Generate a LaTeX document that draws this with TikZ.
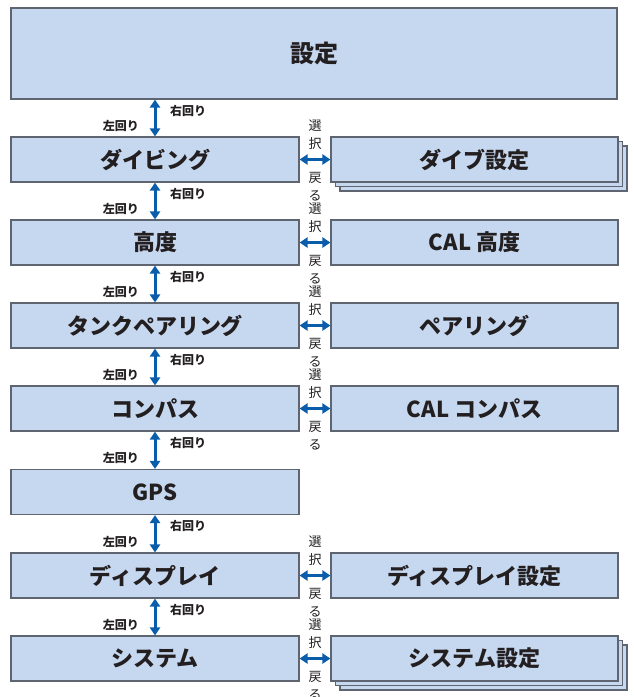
\documentclass[tikz,border=0pt]{standalone}
\usepackage{fontspec}
\setmainfont{Noto Sans CJK JP}
\usetikzlibrary{arrows.meta,positioning,shadows}
\definecolor{boxfill}{HTML}{C6D8F0}
\definecolor{boxline}{HTML}{5E6470}
\definecolor{arrc}{HTML}{0A5DAA}
\definecolor{txtc}{HTML}{231F20}
\tikzset{
  mbox/.style={draw=boxline,line width=1.1pt,fill=boxfill,minimum height=45pt,inner sep=0pt,font=\fontsize{22}{24}\selectfont\bfseries,text=txtc},
  lbox/.style={mbox,minimum width=288pt},
  rbox/.style={mbox,minimum width=287pt},
  sbox/.style={rbox,double copy shadow={shadow xshift=4.5pt,shadow yshift=-4.5pt}},
  ar/.style={{Triangle[width=10pt,length=8pt]}-{Triangle[width=10pt,length=8pt]},line width=3pt,arrc},
  sm/.style={font=\fontsize{12}{13}\selectfont\bfseries,text=txtc,inner sep=1pt},
  vt/.style={font=\fontsize{13}{18}\selectfont,text=txtc,align=center,inner sep=0pt}
}
\begin{document}
\begin{tikzpicture}[x=1pt,y=1pt]
\useasboundingbox (0,0) rectangle (633,-697);
% menu boxes
\node[mbox,minimum width=606pt,minimum height=91pt,font=\fontsize{24}{26}\selectfont\bfseries] (settei) at (314,-53.5) {設定};
\node[lbox] (dive) at (155,-159.5) {ダイビング};
\node[sbox] (diveset) at (474.5,-159.5) {ダイブ設定};
\node[lbox] (alt) at (155,-242.5) {高度};
\node[rbox] (calalt) at (474.5,-242.5) {CAL 高度};
\node[lbox] (tank) at (155,-325.5) {タンクペアリング};
\node[rbox] (pair) at (474.5,-325.5) {ペアリング};
\node[lbox] (comp) at (155,-408.5) {コンパス};
\node[rbox] (calcomp) at (474.5,-408.5) {CAL コンパス};
\node[lbox] (gps) at (155,-492) {GPS};
\node[lbox] (disp) at (155,-575.5) {ディスプレイ};
\node[rbox] (dispset) at (474.5,-575.5) {ディスプレイ設定};
\node[lbox] (sys) at (155,-658.5) {システム};
\node[sbox] (sysset) at (474.5,-658.5) {システム設定};
% rotate arrows
\foreach \a/\b in {settei/dive,dive/alt,alt/tank,tank/comp,comp/gps,gps/disp,disp/sys}{
  \draw[ar] (\b.north |- \a.south) -- (\b.north);
  \node[sm,anchor=west] at ([xshift=14pt,yshift=-11pt]\b.north |- \a.south) {右回り};
  \node[sm,anchor=east] at ([xshift=-15pt,yshift=11pt]\b.north) {左回り};
}
% select / back arrows
\foreach \a/\b in {dive/diveset,alt/calalt,tank/pair,comp/calcomp,disp/dispset,sys/sysset}{
  \draw[ar] (\a.east) -- node[vt,above=8pt]{選\\択} node[vt,below=11pt]{戻\\る} (\b.west);
}
\end{tikzpicture}
\end{document}
